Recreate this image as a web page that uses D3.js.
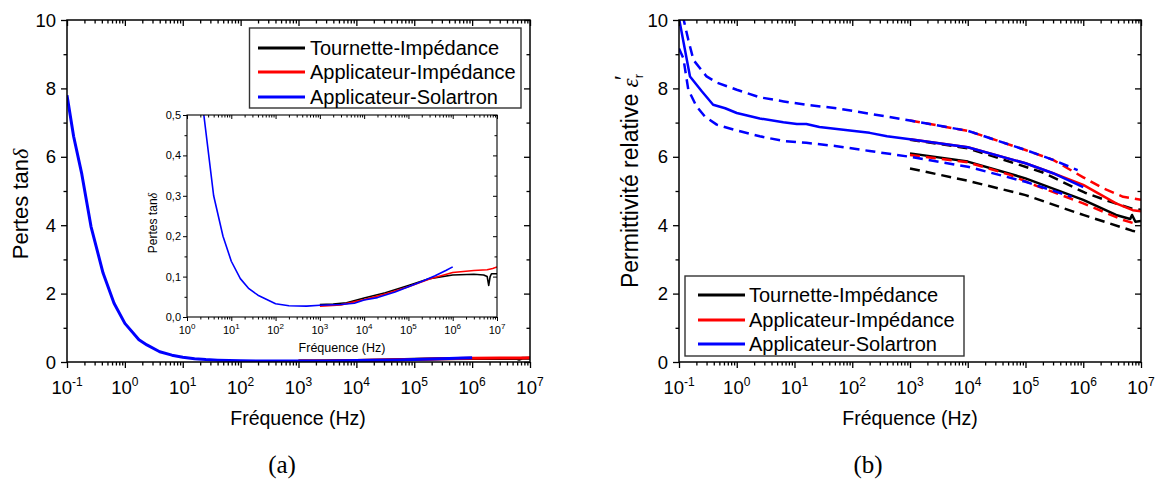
<!DOCTYPE html>
<html><head><meta charset="utf-8">
<script src="https://cdn.jsdelivr.net/npm/d3@7"></script>
<style>
body{margin:0;background:#fff}
text{font-family:"Liberation Sans",Arial,sans-serif;fill:#000}
</style>
</head><body>
<svg id="c" width="1158" height="480"></svg>
<script>
// ---------- tick labels ----------
const freqExps = ["-1","0","1","2","3","4","5","6","7"];
const insetFreqExps = ["0","1","2","3","4","5","6","7"];
const mainYTicks = [0, 2, 4, 6, 8, 10];
const insetYTicks = [0, 0.1, 0.2, 0.3, 0.4, 0.5];
const insetYLabels = ["0,0", "0,1", "0,2", "0,3", "0,4", "0,5"];
const seriesNames = ["Tournette-Impédance", "Applicateur-Impédance", "Applicateur-Solartron"];

// ---------- (a) loss tangent ----------
const lossFreqSolartron = [0.1, 0.13, 0.18, 0.26, 0.42, 0.65, 1.0, 1.75, 2.4, 4, 6.5, 10, 16, 25, 40, 100, 200, 500, 1000, 3000, 6000, 1e4, 2e4, 5e4, 1e5, 2e5, 4e5, 7e5, 1e6];
const lossSolartron     = [7.8, 6.6, 5.5, 3.96, 2.6, 1.72, 1.13, 0.65, 0.5, 0.30, 0.20, 0.138, 0.095, 0.07, 0.054, 0.033, 0.028, 0.027, 0.029, 0.031, 0.034, 0.042, 0.048, 0.062, 0.075, 0.088, 0.102, 0.115, 0.124];
const lossFreqTournette = [1e3, 2e3, 4e3, 1e4, 3e4, 1e5, 3e5, 1e6, 3e6, 5e6, 6e6, 6.5e6, 7e6, 7.5e6, 1e7];
const lossTournette     = [0.031, 0.032, 0.035, 0.047, 0.060, 0.078, 0.095, 0.104, 0.106, 0.104, 0.100, 0.078, 0.100, 0.107, 0.107];
const lossFreqApplic    = [1e3, 3e3, 1e4, 3e4, 1e5, 3e5, 1e6, 3e6, 6e6, 8e6, 1e7];
const lossApplic        = [0.027, 0.030, 0.043, 0.057, 0.075, 0.094, 0.110, 0.115, 0.117, 0.120, 0.124];

// ---------- (b) permittivity ----------
const epsFreqSolMean = [0.1, 0.155, 0.25, 0.39, 0.63, 1, 2.5, 6.4, 11, 16, 27, 91, 200, 400, 1000, 1e4, 1e5, 3e5, 1e6];
const epsSolMean     = [10.05, 8.35, 7.91, 7.52, 7.42, 7.28, 7.12, 7.01, 6.96, 6.96, 6.87, 6.77, 6.70, 6.60, 6.51, 6.28, 5.81, 5.52, 5.11];
const epsFreqSolHigh = [0.1, 0.145, 0.178, 0.3, 0.45, 1, 2.5, 6.5, 16, 54, 200, 1000, 1e4, 1e5, 3e5, 8e5];
const epsSolHigh     = [10.6, 9.42, 8.83, 8.35, 8.17, 7.96, 7.74, 7.62, 7.52, 7.42, 7.26, 7.06, 6.76, 6.20, 5.91, 5.61];
const epsFreqSolLow  = [0.1, 0.119, 0.145, 0.2, 0.28, 0.45, 1, 2.5, 6.5, 16, 54, 200, 1000, 1e4, 1e5, 6.3e5];
const epsSolLow      = [9.17, 8.88, 7.96, 7.48, 7.18, 6.94, 6.77, 6.60, 6.46, 6.41, 6.31, 6.17, 6.00, 5.71, 5.27, 4.83];

const epsFreqAppMean = [1e3, 1e4, 1e5, 3e5, 1e6, 3.7e6, 7.2e6, 1e7];
const epsAppMean     = [6.51, 6.28, 5.81, 5.52, 5.18, 4.64, 4.44, 4.41];
const epsFreqAppHigh = [1e3, 1e4, 1e5, 3e5, 1e6, 2.2e6, 4.9e6, 1e7];
const epsAppHigh     = [7.06, 6.76, 6.20, 5.91, 5.40, 5.08, 4.83, 4.74];
const epsFreqAppLow  = [1e3, 1e4, 5.4e4, 1.55e5, 1e6, 4.9e6, 7.8e6];
const epsAppLow      = [6.05, 5.84, 5.47, 5.15, 4.64, 4.15, 4.05];

const epsFreqTouMean = [1e3, 1e4, 1e5, 1e6, 3.7e6, 6.5e6, 7e6, 8e6, 1e7];
const epsTouMean     = [6.10, 5.86, 5.37, 4.74, 4.30, 4.18, 4.30, 4.10, 4.12];
const epsFreqTouHigh = [1e3, 1e4, 3.6e4, 2e5, 1.07e6, 2.9e6, 6.8e6, 1e7];
const epsTouHigh     = [6.50, 6.25, 5.95, 5.54, 4.95, 4.69, 4.49, 4.45];
const epsFreqTouLow  = [1e3, 1e4, 1e5, 1e6, 7e6, 1e7];
const epsTouLow      = [5.66, 5.30, 4.88, 4.30, 3.84, 3.78];

const colBlack = "#000000", colRed = "#ff0000", colBlue = "#0000ff";

// ---------- helpers ----------
const svg = d3.select("#c");
function decadeMinors(lo, hi) {
  const out = [];
  for (let e = lo; e < hi; e++) for (let k = 2; k <= 9; k++) out.push(k * Math.pow(10, e));
  return out;
}
function frame(g, x, y, xMaj, xMin, yMaj, yMin, s) {
  const [X0, X1] = x.range(), [Y1, Y0] = y.range();
  const style = sel => { sel.select(".domain").remove(); sel.selectAll("line").attr("stroke", "#000").attr("stroke-width", s.tw); };
  g.append("g").attr("transform", `translate(0,${Y1})`).call(d3.axisBottom(x).tickValues(xMaj).tickSize(s.maj).tickSizeOuter(0).tickFormat("")).call(style);
  g.append("g").attr("transform", `translate(0,${Y1})`).call(d3.axisBottom(x).tickValues(xMin).tickSize(s.min).tickSizeOuter(0).tickFormat("")).call(style);
  g.append("g").attr("transform", `translate(0,${Y0})`).call(d3.axisTop(x).tickValues(xMaj).tickSize(-s.maj).tickSizeOuter(0).tickFormat("")).call(style);
  g.append("g").attr("transform", `translate(0,${Y0})`).call(d3.axisTop(x).tickValues(xMin).tickSize(-s.min).tickSizeOuter(0).tickFormat("")).call(style);
  g.append("g").attr("transform", `translate(${X0},0)`).call(d3.axisLeft(y).tickValues(yMaj).tickSize(s.maj).tickSizeOuter(0).tickFormat("")).call(style);
  g.append("g").attr("transform", `translate(${X0},0)`).call(d3.axisLeft(y).tickValues(yMin).tickSize(s.min).tickSizeOuter(0).tickFormat("")).call(style);
  g.append("g").attr("transform", `translate(${X1},0)`).call(d3.axisRight(y).tickValues(yMaj).tickSize(-s.maj).tickSizeOuter(0).tickFormat("")).call(style);
  g.append("g").attr("transform", `translate(${X1},0)`).call(d3.axisRight(y).tickValues(yMin).tickSize(-s.min).tickSizeOuter(0).tickFormat("")).call(style);
  g.append("rect").attr("x", X0).attr("y", Y0).attr("width", X1 - X0).attr("height", Y1 - Y0)
    .attr("fill", "none").attr("stroke", "#000").attr("stroke-width", s.bw);
}
function powLabels(g, x, exps, yBase, size, supSize, supDy) {
  exps.forEach(e => {
    const t = g.append("text").attr("x", x(Math.pow(10, +e))).attr("y", yBase)
      .attr("text-anchor", "middle").attr("font-size", size);
    t.append("tspan").text("10");
    t.append("tspan").attr("dy", -supDy).attr("font-size", supSize).text(e);
  });
}
function clip(id, x, y) {
  const [X0, X1] = x.range(), [Y1, Y0] = y.range();
  svg.append("clipPath").attr("id", id).append("rect")
    .attr("x", X0).attr("y", Y0).attr("width", X1 - X0).attr("height", Y1 - Y0);
}
function series(g, x, y, fr, vals, color, width, dash, clipId) {
  const line = d3.line().x(d => x(d[0])).y(d => y(d[1]));
  g.append("path").datum(d3.zip(fr, vals)).attr("d", line)
    .attr("fill", "none").attr("stroke", color).attr("stroke-width", width)
    .attr("stroke-dasharray", dash || null).attr("stroke-linejoin", "round")
    .attr("clip-path", `url(#${clipId})`);
}
function legend(g, bx, by, bw, bh, rows, lx0, lx1, tx) {
  g.append("rect").attr("x", bx).attr("y", by).attr("width", bw).attr("height", bh)
    .attr("fill", "#fff").attr("stroke", "#333").attr("stroke-width", 1.4);
  const cols = [colBlack, colRed, colBlue];
  seriesNames.forEach((n, i) => {
    g.append("line").attr("x1", lx0).attr("x2", lx1).attr("y1", rows[i]).attr("y2", rows[i])
      .attr("stroke", cols[i]).attr("stroke-width", 3);
    g.append("text").attr("x", tx).attr("y", rows[i]).attr("dy", "0.36em").attr("font-size", 20).text(n);
  });
}

const mainMinorsX = decadeMinors(-1, 7);
const mainMinorsY = [1, 3, 5, 7, 9];
const mainMajorsX = freqExps.map(e => Math.pow(10, +e));

// ================= panel (a) =================
const ga = svg.append("g");
const xa = d3.scaleLog().domain([0.1, 1e7]).range([67, 530]);
const ya = d3.scaleLinear().domain([0, 10]).range([362, 20]);
clip("clipA", xa, ya);
series(ga, xa, ya, lossFreqTournette, lossTournette, colBlack, 3, null, "clipA");
series(ga, xa, ya, lossFreqApplic, lossApplic, colRed, 3, null, "clipA");
series(ga, xa, ya, lossFreqSolartron, lossSolartron, colBlue, 3, null, "clipA");
frame(ga, xa, ya, mainMajorsX, mainMinorsX, mainYTicks, mainMinorsY, {maj: 6, min: 3.5, tw: 1.3, bw: 1.5});
mainYTicks.forEach(v => ga.append("text").attr("x", 56).attr("y", ya(v)).attr("dy", "0.36em")
  .attr("text-anchor", "end").attr("font-size", 18.5).text(v));
powLabels(ga, xa, freqExps, 394, 18.5, 12, 8);
ga.append("text").attr("x", 298).attr("y", 425).attr("text-anchor", "middle").attr("font-size", 19.5).text("Fréquence (Hz)");
{
  const t = ga.append("text").attr("transform", "translate(28,204) rotate(-90)").attr("text-anchor", "middle").attr("font-size", 22);
  t.append("tspan").text("Pertes tan");
  t.append("tspan").attr("font-family", "Liberation Serif").attr("font-style", "italic").text("δ");
}
legend(ga, 249.5, 28, 271.5, 80, [48, 72, 97], 258, 305, 310);

// inset
const gi = svg.append("g");
const xi = d3.scaleLog().domain([1, 1e7]).range([187, 497]);
const yi = d3.scaleLinear().domain([0, 0.5]).range([317, 115]);
gi.append("rect").attr("x", 187).attr("y", 115).attr("width", 310).attr("height", 202).attr("fill", "#fff");
clip("clipI", xi, yi);
series(gi, xi, yi, lossFreqTournette, lossTournette, colBlack, 1.6, null, "clipI");
series(gi, xi, yi, lossFreqApplic, lossApplic, colRed, 1.6, null, "clipI");
series(gi, xi, yi, lossFreqSolartron, lossSolartron, colBlue, 1.6, null, "clipI");
frame(gi, xi, yi, insetFreqExps.map(e => Math.pow(10, +e)), decadeMinors(0, 7), insetYTicks,
  [0.05, 0.15, 0.25, 0.35, 0.45], {maj: 4, min: 2.5, tw: 1, bw: 1.1});
insetYTicks.forEach((v, i) => gi.append("text").attr("x", 181).attr("y", yi(v)).attr("dy", "0.36em")
  .attr("text-anchor", "end").attr("font-size", 11).text(insetYLabels[i]));
powLabels(gi, xi, insetFreqExps, 334, 11, 8, 5);
gi.append("text").attr("x", 342).attr("y", 352).attr("text-anchor", "middle").attr("font-size", 12.5).text("Fréquence (Hz)");
{
  const t = gi.append("text").attr("transform", "translate(157,223) rotate(-90)").attr("text-anchor", "middle").attr("font-size", 12);
  t.append("tspan").text("Pertes tan");
  t.append("tspan").attr("font-family", "Liberation Serif").attr("font-style", "italic").text("δ");
}

// ================= panel (b) =================
const gb = svg.append("g");
const xb = d3.scaleLog().domain([0.1, 1e7]).range([679, 1141]);
const yb = d3.scaleLinear().domain([0, 10]).range([362, 20]);
clip("clipB", xb, yb);
const dash = "10,6";
series(gb, xb, yb, epsFreqTouHigh, epsTouHigh, colBlack, 2.5, dash, "clipB");
series(gb, xb, yb, epsFreqTouLow, epsTouLow, colBlack, 2.5, dash, "clipB");
series(gb, xb, yb, epsFreqTouMean, epsTouMean, colBlack, 2.5, null, "clipB");
series(gb, xb, yb, epsFreqAppHigh, epsAppHigh, colRed, 2.5, dash, "clipB");
series(gb, xb, yb, epsFreqAppLow, epsAppLow, colRed, 2.5, dash, "clipB");
series(gb, xb, yb, epsFreqAppMean, epsAppMean, colRed, 2.5, null, "clipB");
series(gb, xb, yb, epsFreqSolHigh, epsSolHigh, colBlue, 2.5, dash, "clipB");
series(gb, xb, yb, epsFreqSolLow, epsSolLow, colBlue, 2.5, dash, "clipB");
series(gb, xb, yb, epsFreqSolMean, epsSolMean, colBlue, 2.5, null, "clipB");
frame(gb, xb, yb, mainMajorsX, mainMinorsX, mainYTicks, mainMinorsY, {maj: 6, min: 3.5, tw: 1.3, bw: 1.5});
mainYTicks.forEach(v => gb.append("text").attr("x", 668).attr("y", yb(v)).attr("dy", "0.36em")
  .attr("text-anchor", "end").attr("font-size", 18.5).text(v));
powLabels(gb, xb, freqExps, 394, 18.5, 12, 8);
gb.append("text").attr("x", 910).attr("y", 425).attr("text-anchor", "middle").attr("font-size", 19.5).text("Fréquence (Hz)");
{
  const t = gb.append("text").attr("transform", "translate(638,181) rotate(-90)").attr("text-anchor", "middle").attr("font-size", 23);
  t.append("tspan").text("Permittivité relative ");
  t.append("tspan").attr("font-family", "Liberation Serif").attr("font-style", "italic").text("ε");
  t.append("tspan").attr("font-size", 13).attr("dy", 5).text("r");
  t.append("tspan").attr("font-size", 22).attr("dx", -6).attr("dy", -13).text("′");
}
legend(gb, 685, 276, 279, 80, [295, 320, 344], 698, 745, 749);

// captions
svg.append("text").attr("x", 282).attr("y", 473).attr("text-anchor", "middle")
  .style("font-family", "'Liberation Serif',serif").attr("font-size", 25).text("(a)");
svg.append("text").attr("x", 868).attr("y", 473).attr("text-anchor", "middle")
  .style("font-family", "'Liberation Serif',serif").attr("font-size", 25).text("(b)");
</script>
</body></html>
